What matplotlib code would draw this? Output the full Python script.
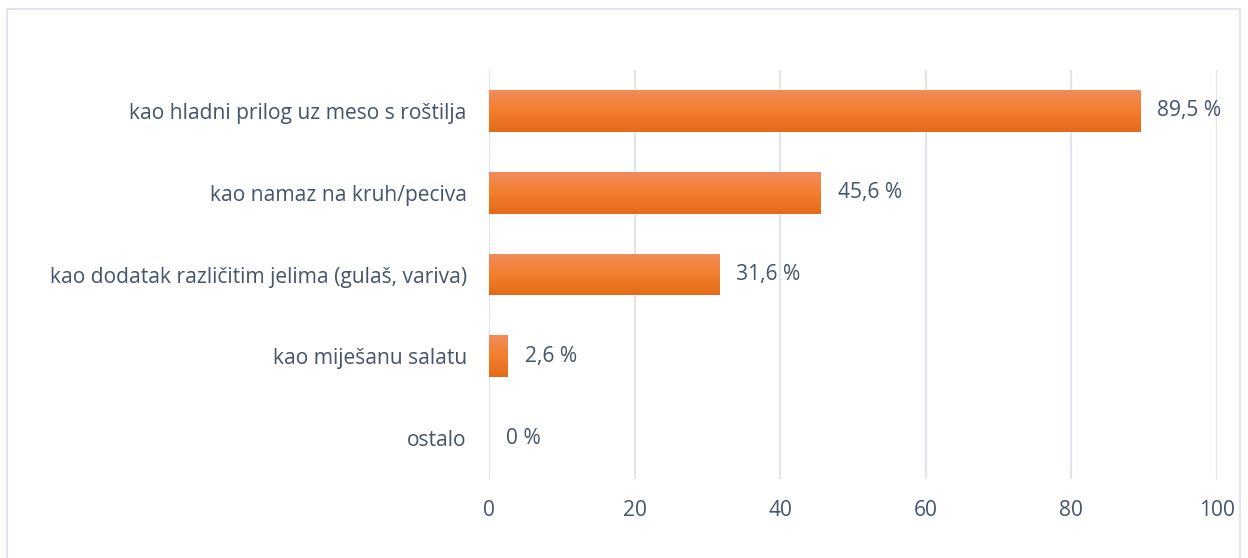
import matplotlib
matplotlib.use("Agg")
import matplotlib.pyplot as plt
import numpy as np
from matplotlib.colors import LinearSegmentedColormap
from matplotlib.patches import Rectangle

categories = [
    "kao hladni prilog uz meso s roštilja",
    "kao namaz na kruh/peciva",
    "kao dodatak različitim jelima (gulaš, variva)",
    "kao miješanu salatu",
    "ostalo",
]
values = [89.5, 45.6, 31.6, 2.6, 0]
value_labels = ["89,5 %", "45,6 %", "31,6 %", "2,6 %", "0 %"]
xticks = [0, 20, 40, 60, 80, 100]

plt.rcParams['font.family'] = ['Open Sans', 'DejaVu Sans']
text_color = "#44546A"
grid_color = "#E1E5EB"
fs = 15.1

fig = plt.figure(figsize=(12.48, 5.58), dpi=100)
ax = fig.add_axes([489/1248, 1-479/558, (1217-489)/1248, (479-70)/558])

y = np.arange(len(categories))
bars = ax.barh(y, values, height=0.51, color="none", edgecolor="none", zorder=3)

cmap = LinearSegmentedColormap.from_list("og", ["#F08C5A", "#F37E2D", "#E46A18"])
grad = np.linspace(0, 1, 256).reshape(-1, 1)
for b in bars:
    x0, y0 = b.get_x(), b.get_y()
    w, h = b.get_width(), b.get_height()
    if w <= 0:
        continue
    im = ax.imshow(grad, cmap=cmap, aspect="auto", extent=[x0, x0 + w, y0 + h, y0],
                   origin="upper", zorder=3)
    im.set_clip_path(b)

ax.set_xlim(0, 100)
ax.set_ylim(len(categories) - 0.5, -0.5)
ax.set_yticks(y)
ax.set_yticklabels(categories)
ax.set_xticks(xticks)
ax.set_xticklabels([str(t) for t in xticks])
ax.tick_params(axis="both", length=0, labelsize=fs, colors=text_color)
ax.tick_params(axis="y", pad=16)
ax.tick_params(axis="x", pad=15)
ax.xaxis.grid(True, color=grid_color, linewidth=1.6, zorder=0)
ax.set_axisbelow(True)
for s in ax.spines.values():
    s.set_visible(False)

for yi, v, lab in zip(y, values, value_labels):
    ax.text(v + 2.3, yi, lab, va="center", ha="left", fontsize=fs, color=text_color, zorder=4)

fig.patches.append(Rectangle((7/1248, -0.01), (1240-7)/1248, 1.01 - 9/558,
                             transform=fig.transFigure, fill=False,
                             edgecolor=grid_color, linewidth=1.5))

fig.savefig("out.png", dpi=100)
